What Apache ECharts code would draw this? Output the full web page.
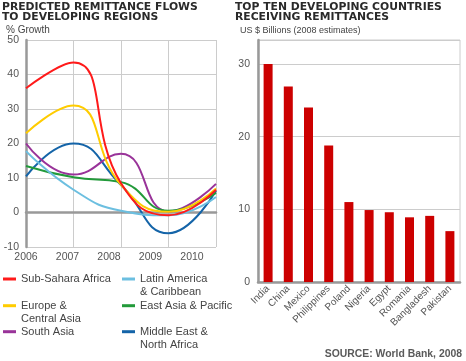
<!DOCTYPE html>
<html>
<head>
<meta charset="utf-8">
<script src="https://cdn.jsdelivr.net/npm/echarts@6/dist/echarts.min.js"></script>
<style>
html,body{margin:0;padding:0;background:#fff;}
#chart{width:466px;height:361px;}
</style>
</head>
<body>
<div id="chart"></div>
<script>
// ---- data ----
var years = [2006, 2007, 2008, 2009, 2010];
var yearLabels = [2006, 2007, 2008, 2009, 2010];
var growthTicks = [-10, 0, 10, 20, 30, 40, 50];
var regionNames = ['Sub-Sahara Africa', 'Latin America & Caribbean', 'Europe & Central Asia', 'East Asia & Pacific', 'South Asia', 'Middle East & North Africa'];
var regionLegendLabels = ['Sub-Sahara Africa', 'Latin America\n& Caribbean', 'Europe &\nCentral Asia', 'East Asia & Pacific', 'South Asia', 'Middle East &\nNorth Africa'];
var regionColors = ['#ff1a1a', '#6cbfe0', '#ffcc00', '#229a3a', '#993399', '#1464a8'];
var subSahara   = [36, 43.5, 8.5, -0.8, 6.6];
var latinAmerica= [17.8, 6.6, 0.5, -0.8, 4.5];
var europe      = [23, 31, 8, 0.2, 7];
var eastAsia    = [13.5, 10.2, 8.8, 0.5, 5.7];
var southAsia   = [20, 11, 17, 0.3, 8.3];
var middleEast  = [10.5, 20, 8, -6, 6.3];
var regionValues = [subSahara, latinAmerica, europe, eastAsia, southAsia, middleEast];

var countries = ['India', 'China', 'Mexico', 'Philippines', 'Poland', 'Nigeria', 'Egypt', 'Romania', 'Bangladesh', 'Pakistan'];
var remittances = [30, 26.9, 24, 18.8, 11, 9.9, 9.6, 8.9, 9.1, 7];

// ---- chart ----
var chart = echarts.init(document.getElementById('chart'), null, {renderer: 'canvas'});
var labelFont = 'Liberation Sans, Arial, sans-serif';
var titleFont = 'DejaVu Sans, Verdana, sans-serif';

var lineSeries = regionNames.map(function (name, i) {
  return {
    name: name,
    type: 'line',
    xAxisIndex: 0,
    yAxisIndex: 0,
    smooth: 0.5,
    showSymbol: false,
    symbol: 'none',
    lineStyle: {color: regionColors[i], width: 2},
    itemStyle: {color: regionColors[i]},
    data: years.map(function (y, j) { return [y, regionValues[i][j]]; }),
    z: 3 + (5 - i)
  };
});

// legend positions (two columns, three rows)
var legendPos = [
  {left: 3, row: 0}, {left: 122, row: 0},
  {left: 3, row: 1}, {left: 122, row: 1},
  {left: 3, row: 2}, {left: 122, row: 2}
];
var rowY = [279, 305.7, 331.7];
var legends = regionNames.map(function (name, i) {
  var twoLines = regionLegendLabels[i].indexOf('\n') >= 0;
  var H = twoLines ? 39 : 13;
  return {
    data: [name],
    left: legendPos[i].left,
    top: rowY[legendPos[i].row] - H / 2,
    padding: 0,
    itemGap: 0,
    itemWidth: 13,
    itemHeight: 3,
    icon: 'rect',
    formatter: function () { return twoLines ? '\n' + regionLegendLabels[i] : regionLegendLabels[i]; },
    textStyle: {fontFamily: labelFont, fontSize: 11, color: '#444', lineHeight: 13}
  };
});

var option = {
  animation: false,
  backgroundColor: '#fff',
  title: [
    {text: 'PREDICTED REMITTANCE FLOWS\nTO DEVELOPING REGIONS', left: 2, top: 2, padding: 0,
     textStyle: {fontFamily: titleFont, fontWeight: 'bold', fontSize: 10.8, lineHeight: 10, color: '#2a2a2a'}},
    {text: 'TOP TEN DEVELOPING COUNTRIES\nRECEIVING REMITTANCES', left: 235, top: 2, padding: 0,
     textStyle: {fontFamily: titleFont, fontWeight: 'bold', fontSize: 10.8, lineHeight: 10, color: '#2a2a2a'}},
    {text: '% Growth', left: 6, top: 25, padding: 0,
     textStyle: {fontFamily: labelFont, fontWeight: 'normal', fontSize: 10, color: '#444'}},
    {text: 'US $ Billions (2008 estimates)', left: 240, top: 26, padding: 0,
     textStyle: {fontFamily: labelFont, fontWeight: 'normal', fontSize: 9, color: '#444'}},
    {text: 'SOURCE: World Bank, 2008', right: 4, top: 349, padding: 0,
     textStyle: {fontFamily: labelFont, fontWeight: 'bold', fontSize: 10.4, color: '#5a5a5a'}}
  ],
  legend: legends,
  grid: [
    {left: 26, right: 250, top: 40, bottom: 114, containLabel: false},
    {left: 258, right: 6, top: 40, bottom: 79, containLabel: false, show: true, borderColor: '#ccc', borderWidth: 1}
  ],
  xAxis: [
    {gridIndex: 0, type: 'value', min: 2006, max: 2010, interval: 1, position: 'top',
     axisLine: {show: true, onZero: true, lineStyle: {color: '#999', width: 2.5}},
     axisTick: {show: false}, axisLabel: {show: false},
     splitLine: {show: true, lineStyle: {color: '#ccc', width: 1}}},
    {gridIndex: 0, type: 'value', min: 2006, max: 2010.578, position: 'bottom',
     axisLine: {show: false}, axisTick: {show: false}, splitLine: {show: false},
     axisLabel: {show: true, customValues: yearLabels, margin: 5, showMinLabel: true,
       fontFamily: labelFont, fontSize: 10.5, color: '#555',
       formatter: function (v) { return String(Math.round(v)); }}},
    {gridIndex: 1, type: 'category', data: countries,
     axisLine: {show: true, lineStyle: {color: '#999', width: 2.5}},
     axisTick: {show: false},
     axisLabel: {rotate: 45, margin: 5, fontFamily: labelFont, fontSize: 10, color: '#555', interval: 0}}
  ],
  yAxis: [
    {gridIndex: 0, type: 'value', min: growthTicks[0], max: growthTicks[growthTicks.length - 1], interval: 10,
     axisLine: {show: true, lineStyle: {color: '#999', width: 2.5}},
     axisTick: {show: false},
     axisLabel: {margin: 7, fontFamily: labelFont, fontSize: 10.5, color: '#555'},
     splitLine: {show: true, lineStyle: {color: '#ccc', width: 1}}},
    {gridIndex: 1, type: 'value', min: 0, max: 33.3, interval: 10,
     axisLine: {show: true, lineStyle: {color: '#999', width: 2.5}},
     axisTick: {show: false},
     axisLabel: {margin: 8, showMaxLabel: false, fontFamily: labelFont, fontSize: 10.5, color: '#555'},
     splitLine: {show: true, lineStyle: {color: '#ccc', width: 1}}}
  ],
  series: lineSeries.concat([
    {name: 'Remittances', type: 'bar', xAxisIndex: 2, yAxisIndex: 1,
     barWidth: 9, itemStyle: {color: '#cc0000'}, data: remittances}
  ])
};
chart.setOption(option);
</script>
</body>
</html>
